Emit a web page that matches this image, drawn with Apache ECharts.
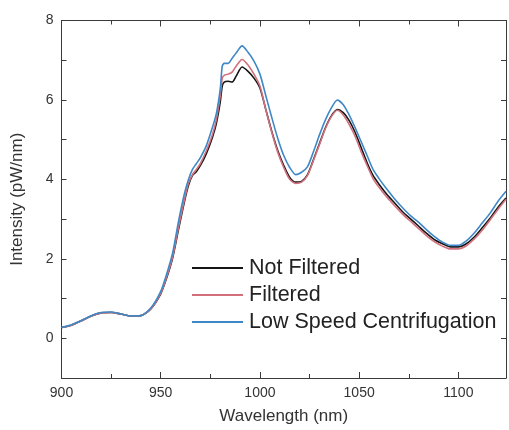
<!DOCTYPE html>
<html>
<head>
<meta charset="utf-8">
<script src="https://cdn.jsdelivr.net/npm/echarts@6/dist/echarts.min.js"></script>
<style>html,body{margin:0;padding:0;background:#fff;}#c{width:509px;height:430px;}</style>
</head>
<body>
<div id="c"></div>
<script>
const wavelength = [900,905,910,915,920,925,930,935,940,945,950,953,956,959,962,964,966,968,970,973,976,978,980,981,982,984,986,988,991,994,997,1000,1003,1006,1009,1012,1015,1018,1021,1024,1027,1030,1033,1036,1039,1042,1045,1048,1051,1054,1057,1060,1064,1068,1072,1076,1080,1084,1088,1092,1096,1100,1104,1108,1112,1116,1120,1124];
const notFiltered = [0.27,0.33,0.44,0.56,0.64,0.65,0.61,0.56,0.57,0.74,1.12,1.52,2.02,2.75,3.45,3.85,4.10,4.20,4.35,4.65,5.05,5.40,5.95,6.35,6.45,6.47,6.45,6.60,6.83,6.72,6.55,6.30,5.75,5.20,4.72,4.35,4.05,3.93,3.95,4.12,4.50,4.90,5.30,5.60,5.76,5.68,5.48,5.18,4.80,4.42,4.10,3.88,3.62,3.40,3.18,3.00,2.82,2.64,2.48,2.38,2.30,2.30,2.38,2.55,2.78,3.02,3.30,3.53];
const filtered = [0.27,0.33,0.44,0.56,0.64,0.65,0.61,0.56,0.57,0.74,1.13,1.54,2.05,2.80,3.50,3.90,4.12,4.25,4.40,4.72,5.12,5.50,6.10,6.55,6.62,6.65,6.70,6.85,7.02,6.88,6.65,6.35,5.75,5.18,4.68,4.30,4.00,3.90,3.93,4.10,4.48,4.88,5.28,5.58,5.74,5.62,5.38,5.08,4.70,4.35,4.02,3.80,3.55,3.33,3.12,2.94,2.76,2.58,2.43,2.32,2.25,2.25,2.33,2.50,2.72,2.98,3.25,3.50];
const lowSpeed = [0.27,0.34,0.45,0.57,0.65,0.66,0.61,0.56,0.57,0.76,1.18,1.62,2.15,2.95,3.65,4.00,4.25,4.40,4.55,4.85,5.30,5.65,6.28,6.85,6.92,6.92,7.05,7.18,7.36,7.20,6.98,6.65,6.10,5.55,5.03,4.60,4.30,4.12,4.18,4.32,4.70,5.12,5.50,5.80,6.00,5.88,5.62,5.30,4.95,4.60,4.25,4.02,3.75,3.50,3.28,3.08,2.92,2.73,2.56,2.42,2.34,2.34,2.45,2.65,2.90,3.15,3.45,3.70];
const seriesNames = ['Not Filtered','Filtered','Low Speed Centrifugation'];
const seriesColors = ['#151515','#d2707c','#3f88c8'];
const yTickLabels = [0,2,4,6,8];

const toPairs = arr => wavelength.map((w,i)=>[w,arr[i]]);
const allData = [notFiltered, filtered, lowSpeed];
const font = 'Liberation Sans, Arial, sans-serif';
const axisCol = '#3a3a3a';

function xAx(pos, interval, len, labels, line){
  return {
    type:'value', position:pos, min:900, max:1124, interval:interval,
    axisLine:{show:line, onZero:false, lineStyle:{color:axisCol,width:1}},
    axisTick:{show:true, inside:true, length:len, lineStyle:{color:axisCol,width:1}},
    axisLabel:{show:labels, margin:8, color:'#333', fontSize:14, fontFamily:font,
      formatter:v=> (v%50===0 ? String(v) : '')},
    splitLine:{show:false},
    name: labels ? 'Wavelength (nm)' : '', nameLocation:'middle', nameGap:30,
    nameTextStyle:{color:'#333', fontSize:17, fontFamily:font}
  };
}
function yAx(pos, labels){
  return {
    type:'value', position:pos, min:-1, max:8, interval:1,
    axisLine:{show:true, onZero:false, lineStyle:{color:axisCol,width:1}},
    axisTick:{show:true, inside:true, length:5, lineStyle:{color:axisCol,width:1}},
    axisLabel:{show:labels, margin:8, color:'#333', fontSize:14, fontFamily:font,
      formatter:v=> (yTickLabels.indexOf(v)>=0 ? String(v) : '')},
    splitLine:{show:false},
    name: labels ? 'Intensity (pW/nm)' : '', nameLocation:'middle', nameGap:36,
    nameTextStyle:{color:'#333', fontSize:17, fontFamily:font}
  };
}

const chart = echarts.init(document.getElementById('c'), null, {renderer:'canvas'});
chart.setOption({
  animation:false,
  backgroundColor:'#fff',
  grid:{left:61.5, right:1, top:20.5, bottom:52, containLabel:false},
  xAxis:[xAx('bottom',50,6,true,true), xAx('bottom',25,4,false,false), xAx('top',50,6,false,true), xAx('top',25,4,false,false)],
  yAxis:[yAx('left',true), yAx('right',false)],
  legend:{
    orient:'vertical', left:187, top:252, itemGap:5, itemWidth:51, itemHeight:2,
    icon:'rect', data:seriesNames,
    textStyle:{color:'#222', fontSize:21.5, fontFamily:font, padding:[0,0,0,1]}
  },
  series: seriesNames.map((n,i)=>({
    name:n, type:'line', xAxisIndex:0, yAxisIndex:0,
    data: toPairs(allData[i]), showSymbol:false, symbol:'none', smooth:0.25,
    color: seriesColors[i],
    lineStyle:{color:seriesColors[i], width:1.6}
  }))
});
</script>
</body>
</html>
